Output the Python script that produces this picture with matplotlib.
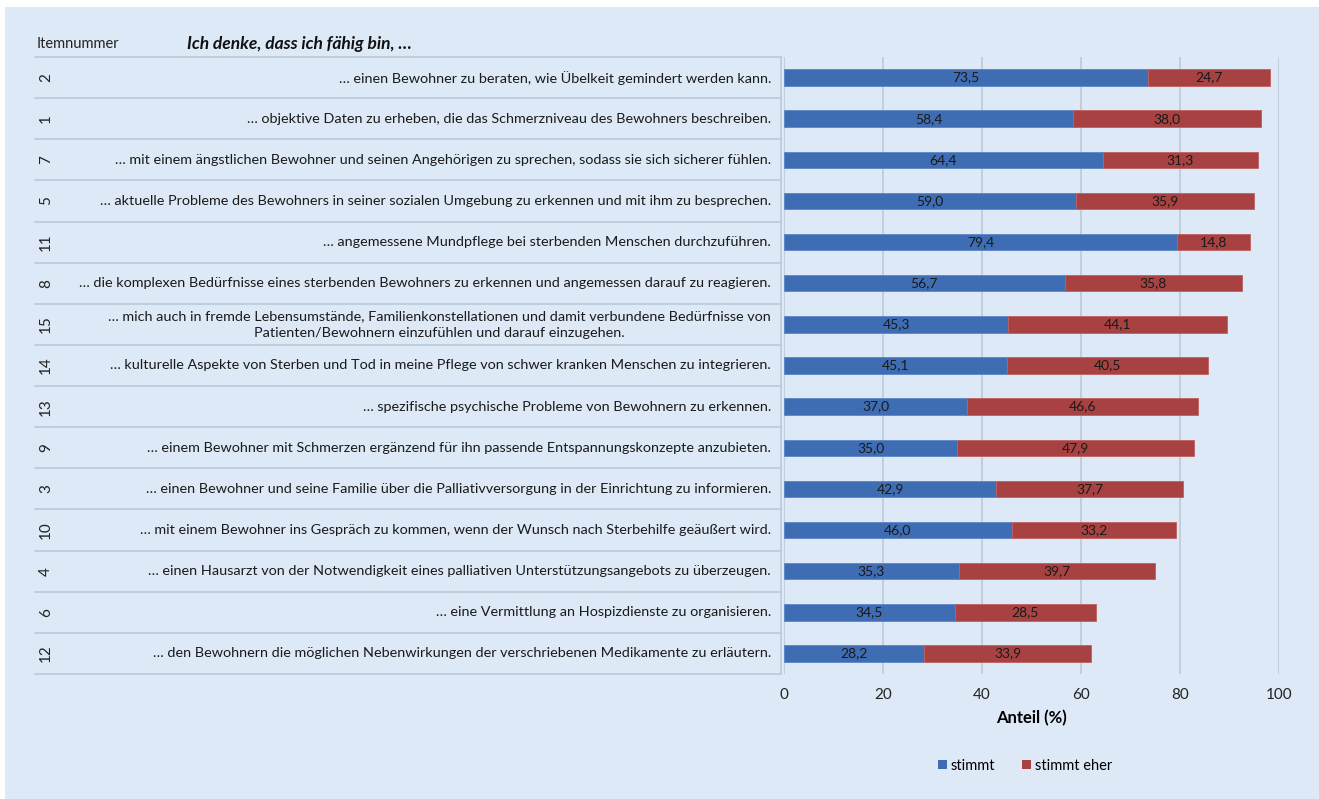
import numpy as np
import matplotlib
matplotlib.use('Agg')
import matplotlib.pyplot as plt
import matplotlib.transforms as mtransforms
from matplotlib.patches import Rectangle, Patch

plt.rcParams['font.family'] = ['Lato', 'DejaVu Sans']

# Items, ordered top to bottom
item_nr = ['2', '1', '7', '5', '11', '8', '15', '14', '13', '9', '3', '10', '4', '6', '12']
item_txt = [
    u'… einen Bewohner zu beraten, wie Übelkeit gemindert werden kann.',
    u'… objektive Daten zu erheben, die das Schmerzniveau des Bewohners beschreiben.',
    u'… mit einem ängstlichen Bewohner und seinen Angehörigen zu sprechen, sodass sie sich sicherer fühlen.',
    u'… aktuelle Probleme des Bewohners in seiner sozialen Umgebung zu erkennen und mit ihm zu besprechen.',
    u'… angemessene Mundpflege bei sterbenden Menschen durchzuführen.',
    u'… die komplexen Bedürfnisse eines sterbenden Bewohners zu erkennen und angemessen darauf zu reagieren.',
    u'… mich auch in fremde Lebensumstände, Familienkonstellationen und damit verbundene Bedürfnisse von\nPatienten/Bewohnern einzufühlen und darauf einzugehen.',
    u'… kulturelle Aspekte von Sterben und Tod in meine Pflege von schwer kranken Menschen zu integrieren.',
    u'… spezifische psychische Probleme von Bewohnern zu erkennen.',
    u'… einem Bewohner mit Schmerzen ergänzend für ihn passende Entspannungskonzepte anzubieten.',
    u'… einen Bewohner und seine Familie über die Palliativversorgung in der Einrichtung zu informieren.',
    u'… mit einem Bewohner ins Gespräch zu kommen, wenn der Wunsch nach Sterbehilfe geäußert wird.',
    u'… einen Hausarzt von der Notwendigkeit eines palliativen Unterstützungsangebots zu überzeugen.',
    u'… eine Vermittlung an Hospizdienste zu organisieren.',
    u'… den Bewohnern die möglichen Nebenwirkungen der verschriebenen Medikamente zu erläutern.',
]
stimmt      = [73.5, 58.4, 64.4, 59.0, 79.4, 56.7, 45.3, 45.1, 37.0, 35.0, 42.9, 46.0, 35.3, 34.5, 28.2]
stimmt_eher = [24.7, 38.0, 31.3, 35.9, 14.8, 35.8, 44.1, 40.5, 46.6, 47.9, 37.7, 33.2, 39.7, 28.5, 33.9]
xticks = [0, 20, 40, 60, 80, 100]

bg    = '#dde9f6'
c_blu = '#3f6db4'
c_red = '#a84242'
c_lin = '#bccad8'

W, H = 1319, 799
fig = plt.figure(figsize=(W / 100., H / 100.), dpi=100)
fig.patch.set_facecolor('white')
fig.patches.append(Rectangle((5. / W, 0), 1, 1 - 7. / H, transform=fig.transFigure,
                             facecolor=bg, edgecolor='none', zorder=-10))

ax = fig.add_axes([784. / W, 1 - 674. / H, (1279. - 784.) / W, (674. - 57.) / H])
ax.set_facecolor('none')
n = len(item_nr)
y = np.arange(n)
ax.set_xlim(0, 100)
ax.set_ylim(n - 0.5, -0.5)

ax.barh(y, stimmt, height=0.4, color=c_blu, edgecolor='#5b86c6', linewidth=0.6, zorder=3)
ax.barh(y, stimmt_eher, left=stimmt, height=0.4, color=c_red, edgecolor='#c06060', linewidth=0.6, zorder=3)

for i in range(n):
    ax.text(stimmt[i] / 2., y[i], ('%.1f' % stimmt[i]).replace('.', ','),
            ha='center', va='center', fontsize=10, color='#1a1a1a', zorder=4)
    ax.text(stimmt[i] + stimmt_eher[i] / 2., y[i], ('%.1f' % stimmt_eher[i]).replace('.', ','),
            ha='center', va='center', fontsize=10, color='#1a1a1a', zorder=4)

ax.set_xticks(xticks)
ax.set_xticklabels([str(t) for t in xticks], fontsize=11, color='#222222')
ax.set_yticks([])
ax.grid(True, axis='x', color=c_lin, linewidth=1.2, zorder=0)
ax.tick_params(axis='x', length=0, pad=10)
for s in ax.spines.values():
    s.set_visible(False)
ax.set_xlabel('Anteil (%)', fontsize=12, fontweight='bold', labelpad=6)

# table on the left side
tr = mtransforms.blended_transform_factory(fig.transFigure, ax.transData)
x0, x1 = 35. / W, 781. / W
for k in range(n + 1):
    ax.plot([x0, x1], [k - 0.5, k - 0.5], transform=tr, color=c_lin, linewidth=1.2,
            clip_on=False, zorder=1)
ax.plot([x1, x1], [-0.5, n - 0.5], transform=tr, color=c_lin, linewidth=1.2,
        clip_on=False, zorder=1)
for i in range(n):
    ax.text(46. / W, y[i], item_nr[i], transform=tr, rotation=90, ha='center', va='center',
            fontsize=11, color='#222222')
    ax.text(771. / W, y[i], item_txt[i], transform=tr, ha='right', va='center',
            multialignment='center', fontsize=10.4, color='#1a1a1a', linespacing=1.5)

fig.text(37. / W, 1 - 44. / H, 'Itemnummer', ha='left', va='center', fontsize=10.5, color='#222222')
fig.text(187. / W, 1 - 44. / H, u'Ich denke, dass ich fähig bin, …', ha='left', va='center',
         fontsize=12.5, fontweight='bold', fontstyle='italic', color='#111111')

handles = [Patch(facecolor=c_blu, edgecolor='none'), Patch(facecolor=c_red, edgecolor='none')]
fig.legend(handles, ['stimmt', 'stimmt eher'], loc='center', bbox_to_anchor=(1025. / W, 1 - 766. / H),
           ncol=2, frameon=False, fontsize=10.5, handlelength=0.6, handleheight=0.6,
           handletextpad=0.3, columnspacing=1.8)

plt.savefig('out.png', dpi=100, facecolor=fig.get_facecolor())
